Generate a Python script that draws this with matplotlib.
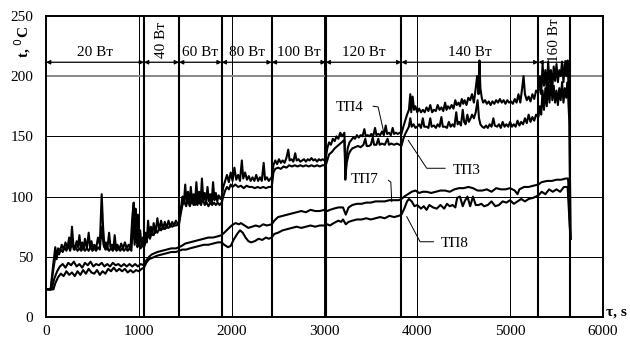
import matplotlib
matplotlib.use("Agg")
import matplotlib.pyplot as plt

plt.rcParams['font.family'] = ['Liberation Serif', 'DejaVu Serif']

# ---- data (time s, temperature degC) ----
tp4 = [(0,23),(50,23),(80,45),(100,58),(115,48),(130,57),(150,55),(170,60),(190,56),(210,62),(230,57),(250,66),(265,58),(280,75),(295,60),(310,56),(330,63),(345,58),(360,68),(375,57),(390,62),(405,56),(420,65),(440,57),(460,70),(475,58),(490,63),(505,56),(520,60),(540,57),(560,66),(580,60),(600,102),(615,75),(630,58),(645,62),(660,56),(680,70),(695,58),(710,60),(725,56),(740,68),(755,57),(770,60),(790,56),(810,61),(830,57),(850,62),(870,57),(890,60),(910,57),(930,83),(945,95),(955,70),(965,90),(975,62),(990,85),(1000,60),(1015,72),(1030,58),(1045,66),(1056,60),
       (1070,70),(1085,62),(1100,80),(1115,66),(1130,75),(1145,68),(1160,78),(1180,70),(1200,82),(1220,72),(1240,80),(1260,73),(1280,79),(1300,74),(1320,80),(1340,75),(1360,79),(1380,76),(1400,80),(1420,77),(1433,79),
       (1450,88),(1470,100),(1485,94),(1500,110),(1515,95),(1530,104),(1545,93),(1560,108),(1575,95),(1590,102),(1605,93),(1620,112),(1635,96),(1650,104),(1665,94),(1680,115),(1695,97),(1710,103),(1725,95),(1740,108),(1755,96),(1770,102),(1785,95),(1800,112),(1815,97),(1830,103),(1845,96),(1860,101),(1880,98),(1893,100),
       (1910,108),(1930,113),(1950,118),(1970,112),(1990,120),(2010,113),(2030,124),(2050,114),(2070,118),(2090,113),(2110,130),(2125,115),(2145,120),(2165,114),(2185,117),(2205,113),(2225,116),(2245,113),(2265,118),(2285,113),(2305,116),(2325,113),(2345,128),(2360,114),(2380,116),(2400,113),(2420,115),(2432,116),
       (2450,126),(2470,130),(2490,127),(2510,131),(2530,128),(2550,130),(2570,128),(2590,132),(2610,139),(2625,130),(2645,131),(2665,129),(2685,136),(2700,130),(2720,131),(2740,129),(2760,130),(2780,131),(2800,129),(2820,131),(2840,130),(2860,132),(2880,130),(2900,131),(2920,129),(2940,131),(2960,130),(2980,131),(3000,130),(3014,132),
       (3030,140),(3050,145),(3070,143),(3090,148),(3110,146),(3130,150),(3150,148),(3170,153),(3190,150),(3215,153),(3225,114),(3235,130),(3250,140),(3270,145),(3290,147),(3310,149),(3330,148),(3350,151),(3370,149),(3390,151),(3410,150),(3430,156),(3445,150),(3465,151),(3485,150),(3505,152),(3525,150),(3545,157),(3560,151),(3580,152),(3600,151),(3620,154),(3640,151),(3660,159),(3675,152),(3695,153),(3715,151),(3735,157),(3750,152),(3770,153),(3790,152),(3810,153),(3829,152),
       (3850,158),(3870,163),(3890,168),(3910,172),(3925,185),(3935,170),(3950,183),(3965,172),(3980,175),(4000,170),(4020,173),(4040,170),(4060,172),(4080,170),(4100,174),(4120,171),(4140,176),(4160,170),(4180,172),(4200,171),(4220,176),(4240,172),(4260,174),(4280,171),(4300,178),(4315,172),(4330,175),(4350,173),(4370,176),(4390,173),(4410,180),(4425,176),(4445,178),(4460,175),(4480,181),(4495,177),(4510,180),(4530,176),(4550,182),(4570,180),(4590,185),(4610,178),(4630,190),(4645,200),(4660,185),(4670,213),(4680,190),(4695,182),(4710,178),(4730,180),(4750,177),(4770,179),(4790,176),(4810,179),(4830,177),(4850,180),(4870,178),(4890,181),(4910,178),(4930,180),(4950,177),(4970,180),(4990,178),(5010,179),(5030,177),(5050,181),(5070,178),(5090,185),(5110,178),(5130,190),(5145,200),(5160,185),(5180,180),(5200,183),(5220,179),(5240,185),(5260,181),(5280,188),(5305,186),
       (5320,200),(5335,185),(5350,210),(5365,192),(5380,205),(5395,188),(5410,212),(5425,195),(5440,205),(5455,190),(5470,208),(5485,196),(5500,210),(5515,195),(5530,205),(5545,200),(5560,212),(5575,195),(5590,210),(5605,200),(5620,213),(5630,190),(5640,170),(5650,65)]

tp3 = [(0,23),(50,23),(80,40),(100,50),(120,55),(140,52),(160,56),(180,54),(200,58),(220,55),(240,60),(260,55),(280,62),(300,56),(320,58),(340,55),(360,57),(380,55),(400,58),(420,55),(440,57),(460,55),(480,58),(500,55),(520,57),(540,55),(560,58),(580,56),(600,75),(620,60),(640,56),(660,58),(680,55),(700,57),(720,55),(740,58),(760,55),(780,57),(800,55),(820,57),(840,55),(860,57),(880,55),(900,57),(920,55),(940,80),(955,60),(970,75),(985,58),(1000,62),(1020,57),(1040,62),(1056,58),
       (1080,64),(1100,68),(1120,65),(1140,70),(1160,68),(1180,72),(1200,70),(1220,74),(1240,72),(1260,75),(1280,73),(1300,75),(1320,74),(1340,76),(1360,75),(1380,76),(1400,76),(1433,77),
       (1450,85),(1470,93),(1490,96),(1510,92),(1530,98),(1550,92),(1570,97),(1590,93),(1610,99),(1630,93),(1650,96),(1670,93),(1690,98),(1710,93),(1730,95),(1750,92),(1770,95),(1790,93),(1810,95),(1830,93),(1850,95),(1870,93),(1893,95),
       (1910,100),(1930,105),(1950,108),(1970,106),(1990,110),(2010,108),(2040,110),(2070,108),(2100,109),(2130,107),(2160,109),(2190,108),(2220,108),(2250,107),(2280,108),(2310,107),(2340,108),(2370,107),(2400,108),(2432,108),
       (2450,120),(2470,123),(2500,124),(2530,123),(2560,125),(2590,124),(2620,126),(2650,125),(2680,126),(2710,125),(2740,126),(2770,125),(2800,126),(2830,125),(2860,126),(2890,125),(2920,126),(2950,125),(2980,126),(3014,126),
       (3030,130),(3050,135),(3080,137),(3110,140),(3140,142),(3170,144),(3200,146),(3215,147),(3228,118),(3240,128),(3260,135),(3280,138),(3300,140),(3330,141),(3360,142),(3390,141),(3420,143),(3440,148),(3455,142),(3480,142),(3500,143),(3520,149),(3535,143),(3560,143),(3580,148),(3595,143),(3620,144),(3650,143),(3680,148),(3695,143),(3720,144),(3750,143),(3780,144),(3810,143),(3829,142),
       (3850,148),(3870,152),(3890,155),(3910,158),(3925,165),(3940,158),(3960,160),(3980,157),(4000,158),(4020,160),(4040,157),(4060,165),(4075,158),(4100,158),(4120,157),(4140,165),(4155,158),(4180,159),(4200,157),(4220,160),(4240,158),(4260,166),(4275,158),(4300,158),(4320,157),(4340,162),(4360,158),(4380,160),(4400,158),(4420,170),(4435,160),(4450,162),(4470,159),(4490,172),(4505,162),(4520,160),(4540,168),(4555,162),(4575,165),(4590,168),(4610,165),(4630,170),(4650,180),(4665,165),(4680,160),(4700,158),(4720,157),(4740,159),(4760,157),(4780,160),(4800,158),(4820,165),(4835,159),(4860,158),(4880,160),(4900,157),(4920,162),(4940,158),(4960,160),(4980,158),(5000,162),(5020,158),(5040,160),(5060,158),(5080,163),(5100,159),(5120,162),(5140,160),(5160,165),(5180,161),(5200,168),(5220,162),(5240,166),(5260,163),(5280,168),(5305,166),
       (5320,175),(5335,168),(5350,188),(5365,172),(5380,190),(5395,175),(5410,195),(5425,178),(5440,200),(5455,180),(5470,192),(5485,178),(5500,188),(5515,176),(5530,190),(5545,180),(5560,195),(5575,178),(5590,190),(5605,182),(5620,195),(5630,175),(5640,160),(5650,65)]

tp7 = [(0,23),(60,23),(90,32),(120,38),(150,42),(180,44),(210,41),(240,45),(270,43),(300,46),(330,42),(360,44),(390,41),(420,45),(450,43),(480,46),(510,42),(540,44),(570,43),(600,45),(630,42),(660,44),(690,42),(720,45),(750,43),(780,44),(810,42),(840,44),(870,42),(900,44),(930,42),(960,44),(990,42),(1020,44),(1056,43),(1080,47),(1110,50),(1140,52),(1170,53),(1200,54),(1250,55),(1300,56),(1350,57),(1400,57),(1433,58),(1460,59),(1500,61),(1550,62),(1600,63),(1650,64),(1700,65),(1750,66),(1800,66),(1850,67),(1893,68),(1920,70),(1960,73),(2000,76),(2040,78),(2080,77),(2100,78),(2140,76),(2180,74),(2220,75),(2260,76),(2300,75),(2340,77),(2380,76),(2432,77),(2460,80),(2500,83),(2550,84),(2600,85),(2650,86),(2700,87),(2750,88),(2800,87),(2850,89),(2900,88),(2950,88),(3000,89),(3030,88),(3060,89),(3100,90),(3150,91),(3200,91),(3230,85),(3260,91),(3300,93),(3350,94),(3400,94),(3450,95),(3500,95),(3550,96),(3600,96),(3650,96),(3700,97),(3750,97),(3800,97),(3829,98),(3860,100),(3900,102),(3940,104),(3980,105),(4020,103),(4060,104),(4100,104),(4150,103),(4200,104),(4250,105),(4300,105),(4350,104),(4400,106),(4450,107),(4500,107),(4550,108),(4600,107),(4650,105),(4700,105),(4750,106),(4800,104),(4850,107),(4900,106),(4950,106),(5000,107),(5050,105),(5080,102),(5100,106),(5150,108),(5200,108),(5250,109),(5305,110),(5340,112),(5400,113),(5450,113),(5500,114),(5550,114),(5600,115),(5625,115),(5650,65)]

tp8 = [(0,23),(80,23),(100,28),(130,33),(160,36),(190,34),(220,38),(250,35),(280,37),(310,34),(340,38),(370,35),(400,39),(430,36),(460,40),(490,37),(520,36),(550,39),(580,35),(610,38),(640,36),(670,40),(700,38),(730,41),(760,38),(790,40),(820,38),(850,40),(880,37),(910,39),(940,37),(970,39),(1000,38),(1030,40),(1056,41),(1080,45),(1110,48),(1140,49),(1170,50),(1200,51),(1250,52),(1300,53),(1350,54),(1400,54),(1433,55),(1470,56),(1510,56),(1550,57),(1600,58),(1650,59),(1700,60),(1750,60),(1800,61),(1850,62),(1893,62),(1920,60),(1960,58),(1990,59),(2020,64),(2060,69),(2090,72),(2120,70),(2150,66),(2180,63),(2210,62),(2250,63),(2290,65),(2330,64),(2370,66),(2400,65),(2432,66),(2460,69),(2500,70),(2550,72),(2600,73),(2650,74),(2700,75),(2750,74),(2800,75),(2850,76),(2900,75),(2950,76),(3000,76),(3030,77),(3060,76),(3100,78),(3150,80),(3180,79),(3200,81),(3230,77),(3260,79),(3300,80),(3350,81),(3400,81),(3450,82),(3500,81),(3550,82),(3600,83),(3650,82),(3700,84),(3750,83),(3800,84),(3829,85),(3860,90),(3890,96),(3910,98),(3940,96),(3970,92),(4000,93),(4040,90),(4070,92),(4100,89),(4130,93),(4170,91),(4210,90),(4250,93),(4290,90),(4320,94),(4350,92),(4380,93),(4410,91),(4430,99),(4460,100),(4490,92),(4510,96),(4540,100),(4570,92),(4600,100),(4630,93),(4660,93),(4690,94),(4720,92),(4760,93),(4800,96),(4840,92),(4880,93),(4920,96),(4960,95),(5000,97),(5040,94),(5080,96),(5120,98),(5160,96),(5200,98),(5250,99),(5305,101),(5340,104),(5380,102),(5420,106),(5460,104),(5500,106),(5540,104),(5580,108),(5620,108),(5650,65)]

# power stages: boundaries (s) and labels
stage_edges = [0, 1056, 1433, 1893, 2432, 3014, 3829, 5305, 5643]
stage_labels = ['20 Вт', '40 Вт', '60 Вт', '80 Вт', '100 Вт', '120 Вт', '140 Вт', '160 Вт']
stage_rotated = [False, True, False, False, False, False, False, True]

x_ticks = [0, 1000, 2000, 3000, 4000, 5000, 6000]
y_ticks = [0, 50, 100, 150, 200, 250]

FS = 11

# ---- figure ----
fig = plt.figure(figsize=(6.3, 3.45), dpi=100)
ax = fig.add_axes([0.073, 0.081, 0.884, 0.873])
ax.set_xlim(0, 6000)
ax.set_ylim(0, 250)
ax.set_xticks(x_ticks)
ax.set_yticks(y_ticks)
ax.tick_params(axis='x', length=0, labelsize=FS, pad=6)
ax.tick_params(axis='y', length=0, labelsize=FS, pad=9)
for s in ax.spines.values():
    s.set_linewidth(1.4)
    s.set_color('black')

# grid
for xv in x_ticks[1:-1]:
    ax.axvline(xv, color='black', lw=0.7, zorder=1)
for yv in y_ticks[1:-1]:
    ax.axhline(yv, color='#888888' if yv == 200 else 'black',
               lw=1.4 if yv == 200 else 0.7, zorder=1)

# stage boundaries
for xv in stage_edges[1:]:
    ax.axvline(xv, color='black', lw=1.5, zorder=2)

# arrows and stage labels
arrow_y = 211.5
for i, lab in enumerate(stage_labels):
    a, b = stage_edges[i], stage_edges[i + 1]
    ax.annotate('', xy=(b, arrow_y), xytext=(a, arrow_y),
                arrowprops=dict(arrowstyle='<|-|>', color='black', lw=0.9,
                                mutation_scale=6, shrinkA=0, shrinkB=0),
                zorder=4)
    mid = (a + b) / 2
    if stage_rotated[i]:
        ax.text(mid, 230, lab, rotation=90, ha='center', va='center', fontsize=FS)
    else:
        ax.text(mid, 220, lab, ha='center', va='center', fontsize=FS)

# curves
for series in (tp8, tp7, tp3, tp4):
    xs = [p[0] for p in series]
    ys = [p[1] for p in series]
    ax.plot(xs, ys, color='black', lw=1.5, zorder=3)

# curve labels with leader lines
ax.text(3275, 174, 'ТП4', ha='center', va='center', fontsize=FS,
        bbox=dict(facecolor='white', edgecolor='none', pad=0.5), zorder=5)
ax.plot([3524, 3578, 3640], [175, 174.4, 153], color='black', lw=0.7, zorder=5)
ax.text(4533, 122, 'ТП3', ha='center', va='center', fontsize=FS, zorder=5)
ax.plot([4300, 4102, 3904], [123.5, 123.5, 146.6], color='black', lw=0.7, zorder=5)
ax.text(3437, 114, 'ТП7', ha='center', va='center', fontsize=FS, zorder=5)
ax.plot([3689, 3715, 3725], [113.5, 112, 95.8], color='black', lw=0.7, zorder=5)
ax.text(4407, 61, 'ТП8', ha='center', va='center', fontsize=FS, zorder=5)
ax.plot([4174, 4030, 3887], [62.5, 62.5, 83.3], color='black', lw=0.7, zorder=5)

# axis titles
fig.text(0.036, 0.925, 't, $^0$C', rotation=90, ha='center', va='top',
         fontsize=FS, fontweight='bold')
fig.text(0.995, 0.095, 'τ, s', ha='right', va='center', fontsize=FS, fontweight='bold')

fig.savefig('out.png', dpi=100)
